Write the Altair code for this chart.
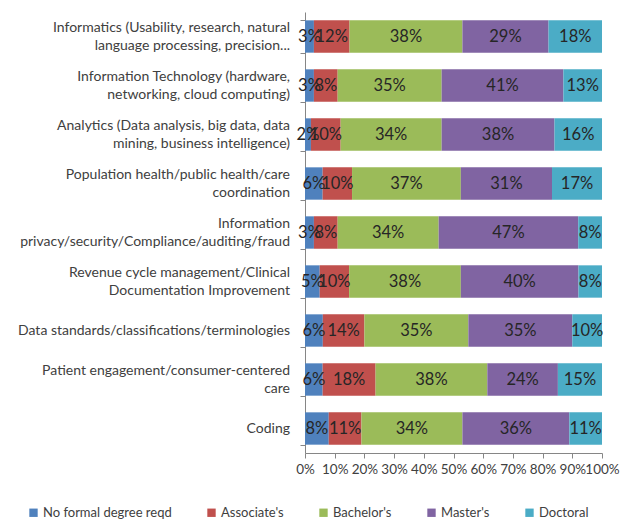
import altair as alt
import pandas as pd

categories = [
    "Informatics (Usability, research, natural\nlanguage processing, precision...",
    "Information Technology (hardware,\nnetworking, cloud computing)",
    "Analytics (Data analysis, big data, data\nmining, business intelligence)",
    "Population health/public health/care\ncoordination",
    "Information\nprivacy/security/Compliance/auditing/fraud",
    "Revenue cycle management/Clinical\nDocumentation Improvement",
    "Data standards/classifications/terminologies",
    "Patient engagement/consumer-centered\ncare",
    "Coding",
]
levels = ["No formal degree reqd", "Associate's", "Bachelor's", "Master's", "Doctoral"]
no_formal = [3, 3, 2, 6, 3, 5, 6, 6, 8]
associates = [12, 8, 10, 10, 8, 10, 14, 18, 11]
bachelors = [38, 35, 34, 37, 34, 38, 35, 38, 34]
masters = [29, 41, 38, 31, 47, 40, 35, 24, 36]
doctoral = [18, 13, 16, 17, 8, 8, 10, 15, 11]
colors = ["#4F81BD", "#C0504D", "#9BBB59", "#8064A2", "#4BACC6"]
x_ticks = [0, 0.1, 0.2, 0.3, 0.4, 0.5, 0.6, 0.7, 0.8, 0.9, 1.0]

series = [no_formal, associates, bachelors, masters, doctoral]
rows = []
for i, c in enumerate(categories):
    for j, lvl in enumerate(levels):
        rows.append({"category": c, "level": lvl, "order": j, "value": series[j][i]})
df = pd.DataFrame(rows)
labels_df = pd.DataFrame({"category": categories})

FONT = "Lato"
LABEL_COLOR = "#404040"
AXIS_COLOR = "#868686"

base = (
    alt.Chart(df)
    .transform_stack(
        stack="value",
        groupby=["category"],
        as_=["x0", "x1"],
        sort=[alt.SortField(field="order", order="ascending")],
        offset="normalize",
    )
    .transform_calculate(mid="(datum.x0 + datum.x1) / 2", label="datum.value + '%'")
)

y_scale = alt.Scale(paddingInner=0.34, paddingOuter=0.17)
x_scale = alt.Scale(domain=[0, 1])

x_axis = alt.Axis(
    values=x_ticks,
    format=".0%",
    grid=False,
    tickSize=5,
    labelOverlap=False,
    labelFlush=False,
    labelFont=FONT,
    labelFontSize=13.5,
    labelColor=LABEL_COLOR,
    domainColor=AXIS_COLOR,
    tickColor=AXIS_COLOR,
    labelPadding=4,
)
y_axis = alt.Axis(
    labels=False,
    tickBand="extent",
    tickSize=5,
    domainColor=AXIS_COLOR,
    tickColor=AXIS_COLOR,
)


def y_enc():
    return alt.Y("category:N", sort=categories, title=None, scale=y_scale, axis=y_axis)


bars = base.mark_bar().encode(
    x=alt.X("x0:Q", scale=x_scale, title=None, axis=x_axis),
    x2="x1:Q",
    y=y_enc(),
    color=alt.Color(
        "level:N",
        sort=levels,
        scale=alt.Scale(domain=levels, range=colors),
        legend=alt.Legend(
            title=None,
            orient="none",
            direction="horizontal",
            legendX=-278,
            legendY=494,
            symbolType="square",
            symbolSize=70,
            symbolStrokeWidth=0,
            labelFont=FONT,
            labelFontSize=13,
            labelColor=LABEL_COLOR,
            columnPadding=33,
            labelOffset=3,
        ),
    ),
)

text = base.mark_text(font=FONT, fontSize=16.5, color="#262626").encode(
    x=alt.X("mid:Q", scale=x_scale, title=None, axis=x_axis),
    y=y_enc(),
    text="label:N",
)

label_style = dict(
    align="right",
    baseline="middle",
    dx=-15,
    lineBreak="\n",
    lineHeight=18,
    font=FONT,
    fontSize=14,
    color=LABEL_COLOR,
)
labels_two = (
    alt.Chart(labels_df)
    .transform_filter("indexof(datum.category, '\\n') >= 0")
    .mark_text(dy=-9, **label_style)
    .encode(x=alt.value(0), y=y_enc(), text="category:N")
)
labels_one = (
    alt.Chart(labels_df)
    .transform_filter("indexof(datum.category, '\\n') < 0")
    .mark_text(**label_style)
    .encode(x=alt.value(0), y=y_enc(), text="category:N")
)

chart = (
    alt.layer(bars, text, labels_two, labels_one)
    .properties(
        width=297,
        height=441,
        autosize=alt.AutoSizeParams(type="none"),
        padding={"left": 305, "top": 12, "right": 20, "bottom": 67},
        background="white",
    )
    .configure_view(stroke=None)
)

chart.save("out.html", embed_options={"renderer": "svg", "actions": False})
